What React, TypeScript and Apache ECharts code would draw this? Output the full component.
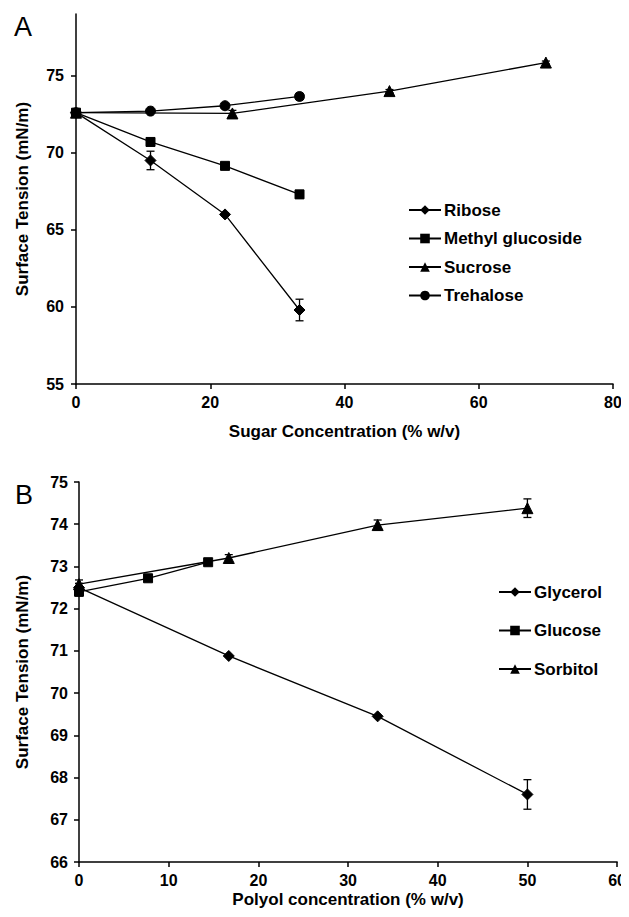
import React, { useEffect, useRef } from "react";
import * as echarts from "echarts";

// Panel A: sugars
const sugarX = [0, 11.1, 22.2, 33.3];
const riboseY = [72.6, 69.5, 66.0, 59.8];
const riboseErr = [0, 0.6, 0.1, 0.7];
const methylY = [72.6, 70.7, 69.15, 67.3];
const methylErr = [0, 0.15, 0.1, 0.25];
const sucroseX = [0, 23.3, 46.7, 70];
const sucroseY = [72.6, 72.55, 74.0, 75.85];
const sucroseErr = [0, 0.2, 0.1, 0.1];
const trehaloseY = [72.6, 72.7, 73.05, 73.65];
const trehaloseErr = [0, 0.05, 0.1, 0.2];

// Panel B: polyols
const polyolX = [0, 16.7, 33.3, 50];
const glycerolY = [72.5, 70.88, 69.45, 67.6];
const glycerolErr = [0.1, 0.05, 0.05, 0.35];
const glucoseX = [0, 7.7, 14.4];
const glucoseY = [72.4, 72.72, 73.1];
const glucoseErr = [0.1, 0.05, 0.05];
const sorbitolY = [72.58, 73.2, 73.98, 74.38];
const sorbitolErr = [0.1, 0.08, 0.12, 0.22];

const yTicksA = [55, 60, 65, 70, 75];
const yTicksB = [66, 67, 68, 69, 70, 71, 72, 73, 74, 75];

const FONT = "'Liberation Sans', Arial, sans-serif";

const zip = (xs: number[], ys: number[]) => xs.map((x, i) => [x, ys[i]]);
const zip3 = (xs: number[], ys: number[], es: number[]) =>
  xs.map((x, i) => [x, ys[i], es[i]]);

function errSeries(grid: number, data: number[][]) {
  return {
    type: "custom",
    xAxisIndex: grid,
    yAxisIndex: grid,
    z: 3,
    silent: true,
    data,
    renderItem: (params: any, api: any) => {
      const x = api.value(0);
      const y = api.value(1);
      const e = api.value(2);
      if (!e || e < 0.08) return null;
      const top = api.coord([x, y + e]);
      const bot = api.coord([x, y - e]);
      const cap = 4;
      const st = { stroke: "#000", lineWidth: 1.3 };
      return {
        type: "group",
        children: [
          { type: "line", shape: { x1: top[0], y1: top[1], x2: bot[0], y2: bot[1] }, style: st },
          { type: "line", shape: { x1: top[0] - cap, y1: top[1], x2: top[0] + cap, y2: top[1] }, style: st },
          { type: "line", shape: { x1: bot[0] - cap, y1: bot[1], x2: bot[0] + cap, y2: bot[1] }, style: st },
        ],
      };
    },
  };
}

function lineSeries(name: string, grid: number, data: number[][], symbol: string, size: number) {
  return {
    name,
    type: "line",
    xAxisIndex: grid,
    yAxisIndex: grid,
    data,
    symbol,
    symbolSize: size,
    showSymbol: true,
    z: 4,
    lineStyle: { color: "#000", width: 1.3 },
    itemStyle: { color: "#000", borderColor: "#000" },
  };
}

const axisCommon = {
  axisLine: { show: true, onZero: false, lineStyle: { color: "#000", width: 1.5 } },
  axisTick: { show: true, inside: false, length: 5, lineStyle: { color: "#000", width: 1.5 } },
  splitLine: { show: false },
  nameTextStyle: { color: "#000", fontFamily: FONT, fontWeight: "bold", fontSize: 17 },
};
const labelCommon = { color: "#000", fontFamily: FONT, fontWeight: "bold", fontSize: 16 };
const legendText = { color: "#000", fontFamily: FONT, fontWeight: "bold", fontSize: 17, lineHeight: 18 };

export default function App() {
  const ref = useRef<HTMLDivElement>(null);
  useEffect(() => {
    if (!ref.current) return;
    const chart = echarts.init(ref.current, undefined, { renderer: "svg" });
    chart.setOption({
      animation: false,
      backgroundColor: "#fff",
      grid: [
        { left: 76, top: 14, width: 537, height: 370 },
        { left: 79, top: 482, width: 539, height: 380 },
      ],
      xAxis: [
        {
          ...axisCommon,
          gridIndex: 0,
          type: "value",
          min: 0,
          max: 80,
          interval: 20,
          name: "Sugar Concentration (% w/v)",
          nameLocation: "middle",
          nameGap: 39,
          axisLabel: { ...labelCommon, margin: 10 },
        },
        {
          ...axisCommon,
          gridIndex: 1,
          type: "value",
          min: 0,
          max: 60,
          interval: 10,
          name: "Polyol concentration (% w/v)",
          nameLocation: "middle",
          nameGap: 29,
          axisLabel: { ...labelCommon, margin: 10 },
        },
      ],
      yAxis: [
        {
          ...axisCommon,
          gridIndex: 0,
          type: "value",
          min: 55,
          max: 79,
          name: "Surface Tension (mN/m)",
          nameLocation: "middle",
          nameGap: 45,
          axisTick: { ...axisCommon.axisTick, customValues: yTicksA },
          axisLabel: { ...labelCommon, margin: 12, customValues: yTicksA },
        },
        {
          ...axisCommon,
          gridIndex: 1,
          type: "value",
          min: 66,
          max: 75,
          interval: 1,
          name: "Surface Tension (mN/m)",
          nameLocation: "middle",
          nameGap: 48,
          axisTick: { ...axisCommon.axisTick, customValues: yTicksB },
          axisLabel: { ...labelCommon, margin: 11, customValues: yTicksB },
        },
      ],
      legend: [
        {
          data: ["Ribose", "Methyl glucoside", "Sucrose", "Trehalose"],
          orient: "vertical",
          left: 408,
          top: 201,
          padding: 0,
          itemWidth: 32,
          itemHeight: 12,
          itemGap: 10.5,
          selectedMode: false,
          textStyle: { ...legendText, padding: [0, 0, 0, -2] },
        },
        {
          data: ["Glycerol", "Glucose", "Sorbitol"],
          orient: "vertical",
          left: 498,
          top: 583,
          padding: 0,
          itemWidth: 32,
          itemHeight: 12,
          itemGap: 20.5,
          selectedMode: false,
          textStyle: { ...legendText, padding: [0, 0, 0, -2] },
        },
      ],
      graphic: [
        { type: "text", left: 14, top: 13, style: { text: "A", fontFamily: FONT, fontSize: 27, fill: "#000" } },
        { type: "text", left: 15, top: 481, style: { text: "B", fontFamily: FONT, fontSize: 27, fill: "#000" } },
      ],
      series: [
        lineSeries("Ribose", 0, zip(sugarX, riboseY), "diamond", 11),
        lineSeries("Methyl glucoside", 0, zip(sugarX, methylY), "rect", 9),
        lineSeries("Sucrose", 0, zip(sucroseX, sucroseY), "triangle", 11),
        lineSeries("Trehalose", 0, zip(sugarX, trehaloseY), "circle", 10),
        errSeries(0, zip3(sugarX, riboseY, riboseErr)),
        errSeries(0, zip3(sugarX, methylY, methylErr)),
        errSeries(0, zip3(sucroseX, sucroseY, sucroseErr)),
        errSeries(0, zip3(sugarX, trehaloseY, trehaloseErr)),
        lineSeries("Glycerol", 1, zip(polyolX, glycerolY), "diamond", 11),
        lineSeries("Glucose", 1, zip(glucoseX, glucoseY), "rect", 9),
        lineSeries("Sorbitol", 1, zip(polyolX, sorbitolY), "triangle", 11),
        errSeries(1, zip3(polyolX, glycerolY, glycerolErr)),
        errSeries(1, zip3(glucoseX, glucoseY, glucoseErr)),
        errSeries(1, zip3(polyolX, sorbitolY, sorbitolErr)),
      ],
    });
    return () => chart.dispose();
  }, []);
  return <div ref={ref} style={{ width: 629, height: 917, margin: -8 }} />;
}
